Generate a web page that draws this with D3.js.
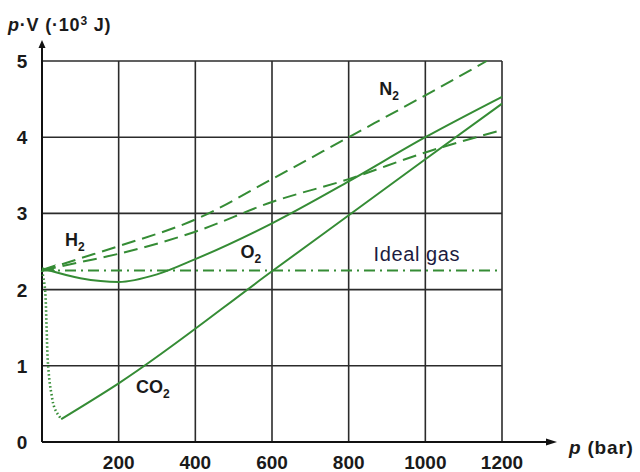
<!DOCTYPE html>
<html>
<head>
<meta charset="utf-8">
<script src="https://cdn.jsdelivr.net/npm/d3@7"></script>
<style>
  body { margin: 0; background: #fff; }
  text { font-family: "Liberation Sans", Arial, sans-serif; }
</style>
</head>
<body>
<svg id="chart" width="640" height="472"></svg>
<script>
// values (p in bar, pV in 10^3 J)
const xTicks = [200, 400, 600, 800, 1000, 1200];
const yTicks = [0, 1, 2, 3, 4, 5];

const n2 = [[0, 2.25], [100, 2.41], [200, 2.57], [400, 2.92], [600, 3.45], [800, 4.0], [1000, 4.55], [1160, 5.0]];
const h2 = [[0, 2.25], [100, 2.36], [200, 2.47], [400, 2.76], [600, 3.15], [800, 3.45], [1000, 3.8], [1190, 4.08]];
const o2 = [[0, 2.28], [100, 2.15], [200, 2.1], [300, 2.2], [400, 2.4], [600, 2.87], [800, 3.42], [1000, 4.0], [1200, 4.53]];
const co2Gas = [[0, 2.25], [8, 2.0], [12, 1.5], [16, 1.0], [24, 0.65], [35, 0.42], [50, 0.3]];
const co2 = [[50, 0.3], [200, 0.77], [600, 2.24], [1000, 3.71], [1200, 4.44]];
const ideal = [[0, 2.25], [1200, 2.25]];

const labels = [
  {name: "N", sub: "2", p: 880, v: 4.56},
  {name: "H", sub: "2", p: 60, v: 2.57},
  {name: "O", sub: "2", p: 518, v: 2.41},
  {name: "CO", sub: "2", p: 245, v: 0.64}
];

const svg = d3.select("#chart");
const green = "#358c35";

const x = d3.scaleLinear().domain([0, 1200]).range([42, 502]);
const y = d3.scaleLinear().domain([0, 5]).range([442, 61]);

// grid
const grid = svg.append("g").attr("stroke", "#2b2b2b").attr("stroke-width", 1.6);
grid.selectAll("line.v")
  .data(xTicks)
  .enter().append("line")
  .attr("x1", d => x(d)).attr("x2", d => x(d))
  .attr("y1", y(0)).attr("y2", y(5));
grid.selectAll("line.h")
  .data(yTicks.filter(d => d > 0))
  .enter().append("line")
  .attr("x1", x(0)).attr("x2", x(1200))
  .attr("y1", d => y(d)).attr("y2", d => y(d));

// axes with arrows
svg.append("line")
  .attr("x1", x(0)).attr("x2", 550)
  .attr("y1", y(0)).attr("y2", y(0))
  .attr("stroke", "#111").attr("stroke-width", 2);
svg.append("path")
  .attr("d", `M557,${y(0)} L546,${y(0) - 3.5} L546,${y(0) + 3.5}Z`)
  .attr("fill", "#111");
svg.append("line")
  .attr("x1", x(0)).attr("x2", x(0))
  .attr("y1", y(0)).attr("y2", 46)
  .attr("stroke", "#111").attr("stroke-width", 2);
svg.append("path")
  .attr("d", `M${x(0)},40 L${x(0) - 3.5},48 L${x(0) + 3.5},48Z`)
  .attr("fill", "#111");

// tick labels
svg.selectAll("text.xt")
  .data(xTicks)
  .enter().append("text")
  .attr("x", d => x(d)).attr("y", 469)
  .attr("text-anchor", "middle")
  .attr("font-size", 19).attr("font-weight", "bold")
  .attr("fill", "#1a1a1a")
  .text(d => d);
svg.selectAll("text.yt")
  .data(yTicks)
  .enter().append("text")
  .attr("x", 22).attr("y", d => y(d) + 7)
  .attr("text-anchor", "middle")
  .attr("font-size", 19).attr("font-weight", "bold")
  .attr("fill", "#1a1a1a")
  .text(d => d);

// axis titles
const yt = svg.append("text").attr("x", 8).attr("y", 31)
  .attr("font-size", 18).attr("font-weight", "bold").attr("fill", "#1a1a1a")
  .attr("letter-spacing", 0.8);
yt.append("tspan").attr("font-style", "italic").text("p");
yt.append("tspan").text("·V (·10");
yt.append("tspan").attr("font-size", 12).attr("dy", -6).text("3");
yt.append("tspan").attr("dy", 6).text(" J)");

const xt = svg.append("text").attr("x", 569).attr("y", 454)
  .attr("font-size", 19).attr("font-weight", "bold").attr("fill", "#1a1a1a")
  .attr("letter-spacing", 0.8);
xt.append("tspan").attr("font-style", "italic").text("p");
xt.append("tspan").text(" (bar)");

// curves
const line = d3.line()
  .x(d => x(d[0])).y(d => y(d[1]))
  .curve(d3.curveMonotoneX);

const curves = [
  {data: n2, dash: "14,7"},
  {data: h2, dash: "14,7"},
  {data: o2, dash: null},
  {data: co2, dash: null},
  {data: ideal, dash: "11,5,2,5"}
];

svg.append("g").selectAll("path")
  .data(curves)
  .enter().append("path")
  .attr("d", d => line(d.data))
  .attr("fill", "none")
  .attr("stroke", green)
  .attr("stroke-width", 2)
  .attr("stroke-dasharray", d => d.dash);

svg.append("path")
  .attr("d", d3.line().x(d => x(d[0])).y(d => y(d[1])).curve(d3.curveMonotoneY)(co2Gas))
  .attr("fill", "none")
  .attr("stroke", green)
  .attr("stroke-width", 2.6)
  .attr("stroke-dasharray", "1.5,2.5");

// small arrowhead where the curves meet the axis
const ax = x(0) + 2, ay = y(2.28);
svg.append("path")
  .attr("d", `M${ax},${ay} L${ax + 12},${ay - 4} L${ax + 9},${ay} L${ax + 12},${ay + 4}Z`)
  .attr("fill", green);

// curve labels
const lab = svg.selectAll("text.lab")
  .data(labels)
  .enter().append("text")
  .attr("x", d => x(d.p)).attr("y", d => y(d.v))
  .attr("font-size", 18).attr("font-weight", "bold")
  .attr("fill", "#1a1a1a");
lab.append("tspan").text(d => d.name);
lab.append("tspan").attr("font-size", 12).attr("dy", 5).text(d => d.sub);

svg.append("text")
  .attr("x", x(865)).attr("y", 261)
  .attr("font-size", 20)
  .attr("fill", "#1c1c40")
  .attr("letter-spacing", 0.6)
  .text("Ideal gas");
</script>
</body>
</html>
